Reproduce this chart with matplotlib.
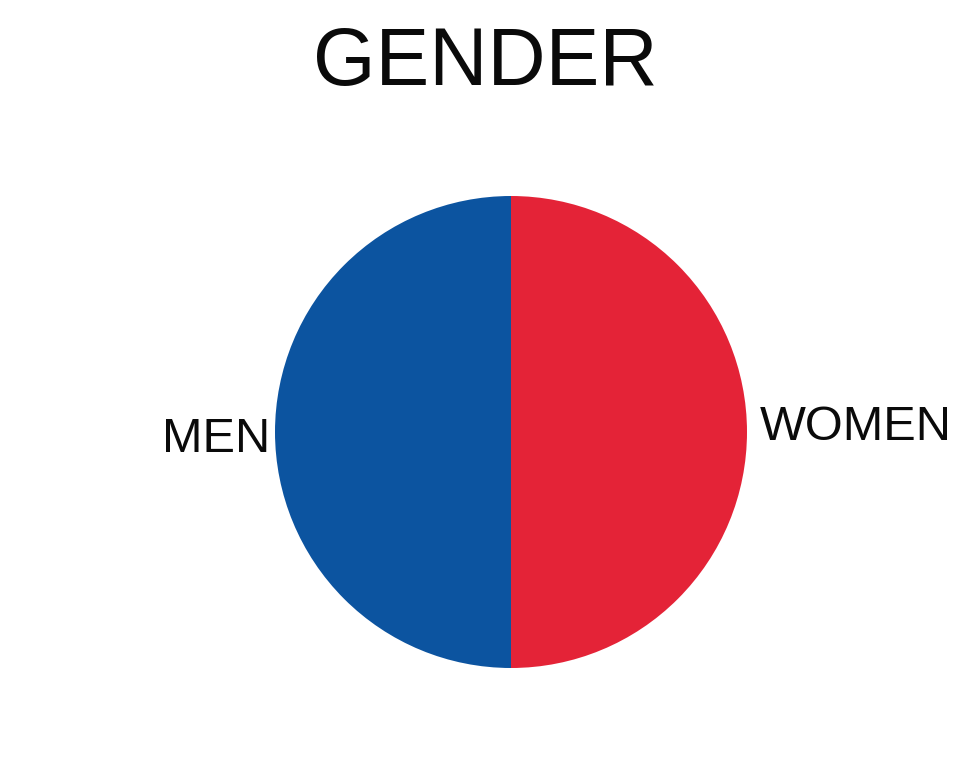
import matplotlib
matplotlib.use("Agg")
import matplotlib.pyplot as plt

categories = ["MEN", "WOMEN"]
values = [50, 50]
colors = ["#0C54A0", "#E42337"]

W, H = 976, 769
fig = plt.figure(figsize=(W / 100, H / 100), dpi=100)
plt.rcParams['font.family'] = ['Liberation Sans', 'DejaVu Sans']

cx, cy, r = 511, 432, 236
ax = fig.add_axes([(cx - r) / W, (H - cy - r) / H, 2 * r / W, 2 * r / H])
wedges, texts = ax.pie(values, labels=categories, colors=colors, startangle=90,
                       counterclock=True, labeldistance=1.04,
                       wedgeprops=dict(linewidth=0),
                       textprops=dict(fontsize=35, color="#0a0a0a"))
ax.set_xlim(-1, 1)
ax.set_ylim(-1, 1)
ax.set_aspect('auto')
ax.axis('off')

texts[0].set_position((-1.02, -0.03))
texts[0].set_ha('right')
texts[0].set_va('center')
texts[1].set_position((1.055, 0.02))
texts[1].set_ha('left')
texts[1].set_va('center')

fig.text(485 / W, 1 - 64 / H, "GENDER", ha='center', va='center', fontsize=58, color="#0a0a0a")

fig.savefig("out.png", dpi=100, facecolor="white")
